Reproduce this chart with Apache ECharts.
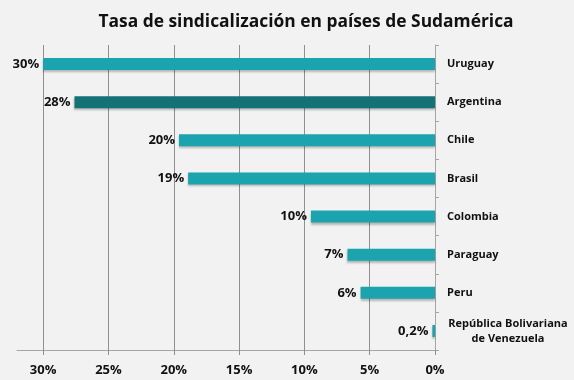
<!DOCTYPE html>
<html>
<head>
<meta charset="utf-8">
<script src="https://cdn.jsdelivr.net/npm/echarts@6/dist/echarts.min.js"></script>
<style>
html,body{margin:0;padding:0;background:#f2f2f2;}
#c{width:574px;height:380px;}
</style>
</head>
<body>
<div id="c"></div>
<script>
const titleText = 'Tasa de sindicalización en países de Sudamérica';
const categories = ['Uruguay', 'Argentina', 'Chile', 'Brasil', 'Colombia', 'Paraguay', 'Peru', 'República Bolivariana\nde Venezuela'];
const values = [30, 27.6, 19.6, 18.9, 9.5, 6.7, 5.7, 0.2];
const valueLabels = ['30%', '28%', '20%', '19%', '10%', '7%', '6%', '0,2%'];
const highlight = 'Argentina';
const tickValues = [0, 5, 10, 15, 20, 25, 30];

const FONT = '"Open Sans", "Noto Sans", sans-serif';
const chart = echarts.init(document.getElementById('c'));
chart.setOption({
  backgroundColor: '#f2f2f2',
  animation: false,
  title: {
    text: titleText,
    left: 301, top: 9,
    textAlign: 'center',
    textStyle: { fontFamily: FONT, fontWeight: 'bold', fontSize: 17.4, color: '#111' }
  },
  grid: { left: 17, right: 139, top: 45, bottom: 30 },
  xAxis: {
    type: 'value', inverse: true, min: 0, max: 32,
    axisLine: { show: true, lineStyle: { color: '#a6a6a6', width: 1 } },
    axisTick: { show: true, length: 5, customValues: tickValues, lineStyle: { color: '#8f8f8f' } },
    axisLabel: {
      customValues: tickValues, margin: 14,
      formatter: v => v + '%',
      fontFamily: FONT, fontWeight: 'bold', fontSize: 13, color: '#111'
    },
    splitLine: { show: true, lineStyle: { color: '#8f8f8f', width: 1 } }
  },
  yAxis: {
    type: 'category', inverse: true, position: 'right',
    data: categories,
    axisLine: { show: true, lineStyle: { color: '#a6a6a6' } },
    axisTick: { show: true, length: 4, lineStyle: { color: '#a6a6a6' } },
    axisLabel: {
      align: 'left', margin: 12,
      fontFamily: FONT, fontWeight: 'bold', fontSize: 11, color: '#111',
      formatter: v => {
        if (v.indexOf('\n') >= 0) {
          return v.split('\n').map(s => '{c|' + s + '}').join('\n');
        }
        return v;
      },
      rich: {
        c: { width: 122, align: 'center', fontFamily: FONT, fontWeight: 'bold', fontSize: 11, color: '#111', lineHeight: 15 }
      }
    }
  },
  series: [{
    type: 'bar',
    barWidth: 12,
    data: values.map((v, i) => ({
      value: v,
      itemStyle: { color: categories[i] === highlight ? '#127276' : '#1ba4ae' }
    })),
    itemStyle: {
      shadowColor: 'rgba(0,0,0,0.25)', shadowBlur: 2, shadowOffsetY: 2, shadowOffsetX: 0
    },
    label: {
      show: true, position: 'left', distance: 4,
      formatter: p => valueLabels[p.dataIndex],
      fontFamily: FONT, fontWeight: 'bold', fontSize: 13, color: '#111'
    }
  }]
});
</script>
</body>
</html>
